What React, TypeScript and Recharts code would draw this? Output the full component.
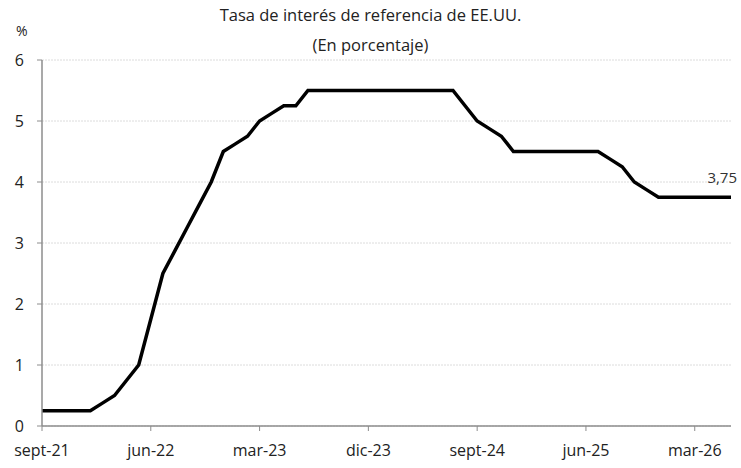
import { LineChart, Line, XAxis, YAxis, CartesianGrid, LabelList } from "recharts";

const months = [
  "sept-21", "oct-21", "nov-21", "dic-21",
  "ene-22", "feb-22", "mar-22", "abr-22", "may-22", "jun-22", "jul-22", "ago-22", "sept-22", "oct-22", "nov-22", "dic-22",
  "ene-23", "feb-23", "mar-23", "abr-23", "may-23", "jun-23", "jul-23", "ago-23", "sept-23", "oct-23", "nov-23", "dic-23",
  "ene-24", "feb-24", "mar-24", "abr-24", "may-24", "jun-24", "jul-24", "ago-24", "sept-24", "oct-24", "nov-24", "dic-24",
  "ene-25", "feb-25", "mar-25", "abr-25", "may-25", "jun-25", "jul-25", "ago-25", "sept-25", "oct-25", "nov-25", "dic-25",
  "ene-26", "feb-26", "mar-26", "abr-26", "may-26", "jun-26",
];

const rate = [
  0.25, 0.25, 0.25, 0.25,
  0.25, 0.375, 0.5, 0.75, 1.0, 1.75, 2.5, 2.875, 3.25, 3.625, 4.0, 4.5,
  4.625, 4.75, 5.0, 5.125, 5.25, 5.25, 5.5, 5.5, 5.5, 5.5, 5.5, 5.5,
  5.5, 5.5, 5.5, 5.5, 5.5, 5.5, 5.5, 5.25, 5.0, 4.875, 4.75, 4.5,
  4.5, 4.5, 4.5, 4.5, 4.5, 4.5, 4.5, 4.375, 4.25, 4.0, 3.875, 3.75,
  3.75, 3.75, 3.75, 3.75, 3.75, 3.75,
];

const yTicks = [0, 1, 2, 3, 4, 5, 6];

const data = months.map((m, i) => ({ month: m, rate: rate[i] }));

const FONT = "'Open Sans', sans-serif";

const EndLabel = (props: any) => {
  const { x, y, index, value } = props;
  if (index !== data.length - 1) return null;
  return (
    <text x={x + 6} y={y - 14} textAnchor="end" fontSize={15} fill="#333" fontFamily={FONT}>
      {String(value).replace(".", ",")}
    </text>
  );
};

export default function App() {
  return (
    <div style={{ position: "absolute", left: 0, top: 0, width: 741, height: 468, background: "#fff", fontFamily: FONT }}>
      <div style={{ position: "absolute", left: 0, width: 741, top: 4, textAlign: "center", fontSize: 16.5, color: "#222", lineHeight: "22px" }}>
        Tasa de interés de referencia de EE.UU.
      </div>
      <div style={{ position: "absolute", left: 0, width: 741, top: 34, textAlign: "center", fontSize: 16.5, color: "#222", lineHeight: "22px" }}>
        (En porcentaje)
      </div>
      <div style={{ position: "absolute", left: 16, top: 21, fontSize: 14, color: "#222" }}>%</div>
      <LineChart
        width={741}
        height={468}
        data={data}
        margin={{ top: 60, right: 10, bottom: 6, left: 0 }}
      >
        <CartesianGrid vertical={false} stroke="#dcdcdc" strokeDasharray="2 1" />
        <XAxis
          dataKey="month"
          interval={8}
          tick={{ fill: "#222", fontSize: 16, fontFamily: FONT }}
          axisLine={{ stroke: "#8c8c8c", strokeWidth: 1.5 }}
          tickLine={{ stroke: "#8c8c8c" }}
          tickSize={5}
          tickMargin={14}
          height={36}
        />
        <YAxis
          domain={[0, 6]}
          ticks={yTicks}
          interval={0}
          width={42}
          tick={{ fill: "#222", fontSize: 16, fontFamily: FONT }}
          axisLine={{ stroke: "#8c8c8c", strokeWidth: 1.5 }}
          tickLine={{ stroke: "#8c8c8c" }}
          tickSize={5}
          tickMargin={13}
        />
        <Line
          dataKey="rate"
          stroke="#000"
          strokeWidth={3.5}
          strokeLinejoin="miter"
          dot={false}
          type="linear"
          isAnimationActive={false}
        >
          <LabelList dataKey="rate" content={EndLabel} />
        </Line>
      </LineChart>
    </div>
  );
}
